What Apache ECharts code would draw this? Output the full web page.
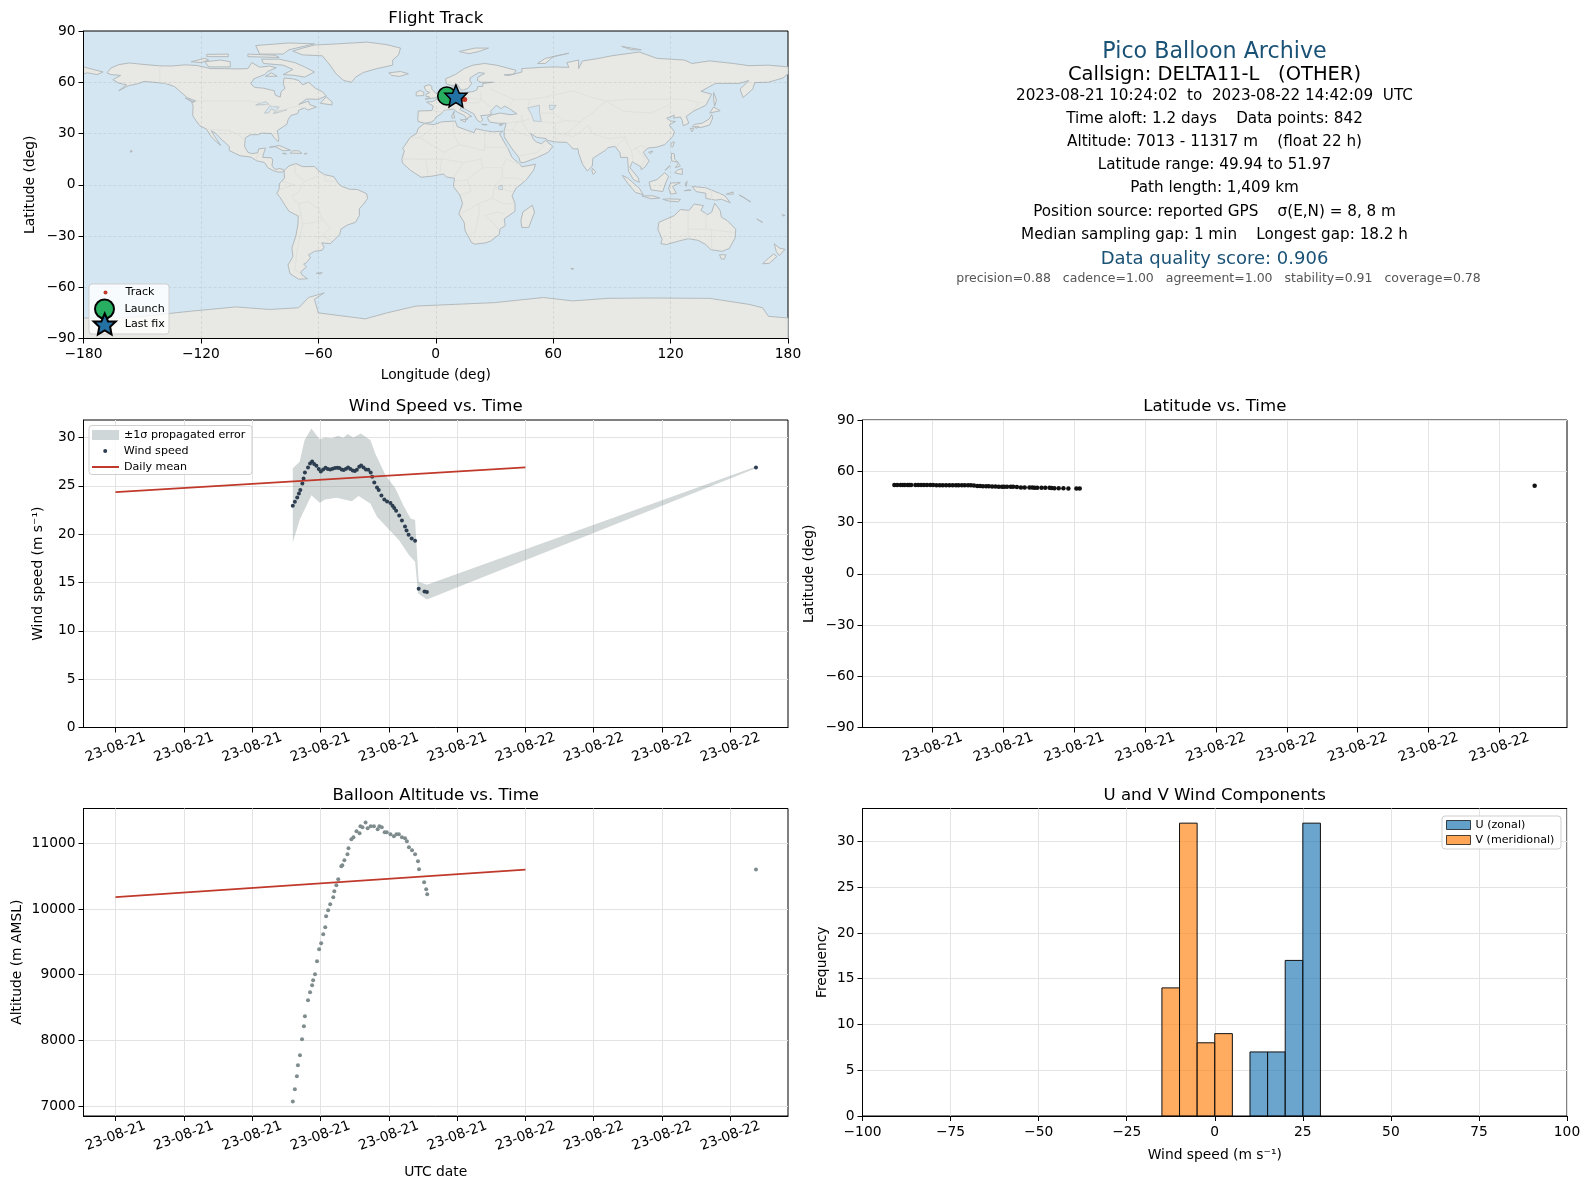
<!DOCTYPE html>
<html><head><meta charset="utf-8">
<style>html,body{margin:0;padding:0;background:#fff}#c{width:1590px;height:1189px}</style>
<script src="https://cdn.jsdelivr.net/npm/echarts@6/dist/echarts.min.js"></script>
</head><body><div id="c"></div>
<script>
// ---------- data ----------
const windHours=[10.38,10.50,10.64,10.74,10.82,10.94,11.01,11.09,11.27,11.39,11.51,11.63,11.76,11.90,12.02,12.16,12.30,12.43,12.57,12.71,12.85,12.99,13.10,13.24,13.36,13.50,13.62,13.75,13.89,14.01,14.13,14.27,14.38,14.52,14.66,14.80,14.94,15.03,15.15,15.31,15.41,15.57,15.74,15.90,16.10,16.22,16.32,16.43,16.61,16.77,16.95,17.04,17.16,17.34,17.54,17.75,18.09,18.23,37.5];
const windSpeed=[22.93,23.34,23.79,24.21,24.55,25.24,25.76,26.38,26.90,27.31,27.52,27.24,27.07,26.72,26.48,26.69,26.86,26.72,26.69,26.76,26.83,26.86,26.83,26.69,26.62,26.76,26.90,26.72,26.59,26.52,26.66,26.97,27.10,26.90,26.69,26.66,26.38,25.93,25.34,24.83,24.55,24.00,23.59,23.38,23.21,22.93,22.69,22.41,21.93,21.41,20.79,20.38,19.93,19.55,19.31,14.34,14.07,14.00,26.9];
const bandHours=[10.38,10.78,11.07,11.47,11.96,12.26,12.65,13.04,13.34,13.58,13.93,14.36,14.92,15.21,15.8,16.39,16.89,17.28,17.54,17.75,18.23,37.5,37.5,18.23,17.72,17.54,17.18,16.59,15.9,15.31,14.92,14.23,13.83,12.95,12.26,11.96,11.47,10.78,10.38];
const bandValues=[26.8,27.48,29.72,30.93,29.79,30,29.9,30.17,29.93,30.34,30,30.41,29.72,28.34,26.1,24.72,22.83,21.62,21.45,15.07,14.76,27.0,26.8,13.24,13.86,17.14,17.83,19.38,20.69,21.79,23.17,23.93,23.41,23.76,23.59,23.24,24.03,21.45,19.14];
const meanHours=[0,24];
const meanWind=[24.35,26.9];
const meanAlt=[10180,10600];
const latValues=[51.97,51.96,51.95,51.95,51.94,51.94,51.93,51.93,51.92,51.92,51.91,51.9,51.9,51.89,51.88,51.87,51.86,51.85,51.84,51.83,51.82,51.82,51.81,51.8,51.79,51.78,51.77,51.7,51.4,51.3,51.25,51.2,51.15,51.1,51.05,51.0,51.0,50.95,50.95,50.9,50.9,50.85,50.55,50.5,50.45,50.45,50.4,50.4,50.35,50.3,50.3,50.25,50.1,50.05,50.0,49.97,49.95,49.94,51.5];
const altHours=[10.38,10.50,10.62,10.68,10.80,10.92,11.03,11.09,11.27,11.39,11.51,11.57,11.68,11.80,11.92,12.04,12.16,12.28,12.33,12.45,12.57,12.75,12.81,12.93,13.04,13.22,13.28,13.40,13.58,13.64,13.81,13.93,14.11,14.29,14.34,14.46,14.64,14.76,14.94,15.13,15.35,15.45,15.59,15.76,15.88,16.10,16.30,16.45,16.59,16.77,16.95,17.06,17.18,17.36,17.54,17.71,17.77,18.07,18.19,18.25,37.5];
const altitude=[7070,7254,7452,7619,7772,8015,8213,8366,8609,8731,8838,8914,9005,9203,9386,9477,9614,9721,9888,9980,10071,10178,10269,10360,10452,10650,10665,10741,10832,10924,11061,11091,11183,11152,11259,11244,11317,11228,11259,11259,11213,11259,11244,11168,11168,11137,11107,11137,11137,11091,11076,11030,10939,10893,10832,10726,10604,10406,10300,10223,10600];
const binWidth=5;
const uBins=[10,15,20,25];
const uCounts=[7,7,17,32];
const vBins=[-15,-10,-5,0];
const vCounts=[14,32,8,9];
const trackLon=[5.6,7.5,9.5,11.5,13.5,14.8,10.3];
const trackLat=[51.97,51.6,51.2,50.7,50.2,49.94,51.5];
const launchPoint=[5.6,51.97];
const lastFixPoint=[10.3,51.97];
const windowTicks4h=[0,4,8,12,16,20,24,28,32,36];
const windowTicks3h=[12,15,18,21,24,27,30,33,36];
const infoLines=[
 ["Pico Balloon Archive",22.2,"#1a5276",52.5,0],
 ["Callsign: DELTA11-L   (OTHER)",19.5,"#000",75,0],
 ["2023-08-21 10:24:02  to  2023-08-22 14:42:09  UTC",15.2,"#000",96.5,0],
 ["Time aloft: 1.2 days    Data points: 842",15.2,"#000",119.5,0],
 ["Altitude: 7013 - 11317 m    (float 22 h)",15.2,"#000",142.5,0],
 ["Latitude range: 49.94 to 51.97",15.2,"#000",165.5,0],
 ["Path length: 1,409 km",15.2,"#000",188.5,0],
 ["Position source: reported GPS    σ(E,N) = 8, 8 m",15.2,"#000",212,0],
 ["Median sampling gap: 1 min    Longest gap: 18.2 h",15.2,"#000",235,0],
 ["Data quality score: 0.906",18,"#1a5276",259,0],
 ["precision=0.88   cadence=1.00   agreement=1.00   stability=0.91   coverage=0.78",12.5,"#555",279,4]
];
// land outlines, lon/lat
const landPolygons=[
[[-168,65.5],[-166,68.3],[-162,70.3],[-156.5,71.3],[-150,70.5],[-141,69.6],[-135,69.5],[-128,70.2],[-122,69.8],[-115,68],[-108,68],[-101,67.8],[-96,68],[-94,71.5],[-90,68.8],[-85,69.5],[-81.5,68.5],[-86,66.2],[-87.5,64.5],[-93,62],[-94.5,59],[-92.5,57],[-88,56.5],[-82.5,55],[-82,52.5],[-79.5,51.3],[-79,54.5],[-77,56.5],[-78,59],[-77.5,62.5],[-73,62],[-70,61],[-68,58.5],[-65,60],[-61.5,56.5],[-58,54.5],[-56,52],[-60,50],[-66,50.2],[-70,47],[-65,49],[-64.5,47],[-61,45.5],[-65.5,43.7],[-67,45],[-70,43.7],[-70.5,41.7],[-74,40.6],[-75.5,38],[-76,35.5],[-78,33.9],[-81,31.7],[-80.2,27],[-80.5,25.2],[-82.5,27.5],[-84,30],[-89,30.2],[-91,29.3],[-94.5,29.3],[-97.3,27.5],[-97.7,22.5],[-96,19],[-94,18.2],[-91,18.7],[-90.5,21],[-87,21.5],[-88,18],[-88.5,16],[-84,15.8],[-83.3,14.5],[-83.7,11],[-82,9],[-79.5,9.5],[-77.3,8.5],[-78,7.5],[-80.5,7.4],[-83,8.3],[-85.8,10],[-87.5,13],[-91.5,14],[-94.5,16.2],[-100,17],[-105.5,20],[-105.5,22.5],[-109,26],[-112.8,30.5],[-114.7,31.5],[-112.5,27.5],[-109.9,23],[-112,25],[-115,28.5],[-117.2,32.6],[-120.5,34.5],[-122.5,37.5],[-124.2,40.5],[-124,46.2],[-124.7,48.3],[-122.5,49],[-127,51],[-130.5,54.5],[-133.5,57.5],[-138,59.2],[-144,60],[-149,60.5],[-152,59.2],[-157,58],[-162,55],[-158,58.5],[-162,59.5],[-165,61.5],[-161,64],[-166,64.5]],
[[-73,78.2],[-68,76],[-58,75.5],[-54,70],[-51,65],[-47,61],[-43,60],[-41,63],[-37,65.7],[-30,68],[-22,70],[-22,73],[-19,76],[-18,80],[-25,82],[-35,83.5],[-50,82.5],[-62,81.8],[-68,80]],
[[-62,66],[-67,63],[-72,64],[-78,64.5],[-73,67.5],[-78,70],[-88,71],[-89,73.5],[-80,73.5],[-72,71.5],[-67,69]],
[[-105,69],[-116,69],[-118,72],[-110,73],[-105,72]],[[-125,72],[-118,74],[-116,73],[-120,71.5]],
[[-90,76.5],[-78,76.5],[-75,79],[-62,82.5],[-75,83],[-92,81.5]],[[-96,75],[-80,74.5],[-82,75.8],[-96,76.5]],
[[-117,75],[-106,75],[-106,76.5],[-117,76.3]],[[-59,47.7],[-53,46.7],[-53,48.5],[-56,51.5]],[[-128,50.8],[-123.5,48.4],[-125,48.7]],[[-87,63.5],[-81,63.5],[-84,65.5]],
[[-85,21.9],[-80,23],[-74.2,20.2],[-78,19.9],[-82,22.3]],[[-74.4,18.5],[-68.4,18.4],[-70,19.9],[-73,19.9]],[[-78.3,18.3],[-76.3,18],[-77,18.5]],[[-67.2,18],[-65.7,18.2],[-66.5,18.5]],[[-156,19],[-155,19.6],[-155.9,20.2]],
[[-77.3,8.5],[-75,11],[-71.5,12.4],[-68,10.6],[-62,10.7],[-60,8.3],[-57,6],[-52,4.7],[-50,1],[-48,-1],[-44,-2.6],[-40,-2.8],[-35.3,-5.2],[-34.8,-8],[-37,-11.5],[-39,-14],[-39,-18],[-41,-22],[-45,-23.5],[-48.5,-26],[-49,-29],[-52,-32.5],[-54,-34.5],[-58.3,-34],[-57,-36.5],[-58,-38.3],[-62,-39],[-65,-41],[-64,-42.7],[-66,-45.5],[-67.5,-46.5],[-66,-48],[-69,-51],[-68.3,-52.8],[-65.5,-55],[-70,-55.3],[-74.5,-52],[-75.5,-47],[-73,-42],[-73.5,-37],[-71.5,-30],[-70.4,-23],[-70.3,-18.3],[-75,-15.5],[-77,-12.1],[-79.5,-7.5],[-81.2,-5],[-80,-2.5],[-80,0.5],[-78.7,2],[-77.3,4],[-77.5,7]],
[[-61,-51.8],[-58,-51.4],[-59,-52.3]],
[[-5.9,35.8],[-1,35.2],[3,36.8],[10,37.3],[11,34],[15,32.3],[19.5,30.5],[20.5,32.8],[25,31.7],[29,31],[32.5,31.2],[34.2,31.3],[32.6,29.8],[35,25],[37,21],[39,16],[43,12],[44,10.5],[51,12],[50,8.5],[46,2.5],[41,-2],[39,-6.5],[40.5,-11],[40.5,-15.5],[35,-20],[35.5,-24],[32.8,-26],[32.5,-29],[28,-33],[25.5,-34],[20,-34.8],[18.3,-33.8],[15,-27],[14.5,-22],[11.8,-17],[13.7,-11],[12.3,-6],[9,-1],[9.6,3.8],[5.5,4.5],[4,6.3],[-2,5],[-7.5,4.4],[-13,8.5],[-16.8,12.5],[-17.4,14.7],[-16,20],[-17,21],[-13,27.8],[-9.8,30],[-9,33]],
[[-9.2,38.7],[-8.9,43.2],[-2,43.4],[-1.2,46],[-4.7,48.4],[-1.5,48.7],[1.5,50.8],[4,52],[7,53.6],[8.5,55.5],[8.2,57],[10.7,57.7],[10.5,54.5],[12,54.2],[14.3,54],[19,54.5],[21,55.5],[21.5,57.5],[24,57.5],[24,59.3],[29.5,60],[23,60],[21.3,61],[21.5,63],[25,65.2],[22,65.7],[17.5,62.5],[17.5,60.5],[18.5,59.5],[16.5,56.5],[14.3,55.5],[12.8,55.5],[11,58.8],[8.3,58],[5.5,59],[5,62],[10,64.5],[14.5,68],[19,70],[25,71],[31,70],[41,67],[40,64.8],[35,64.3],[37.5,64],[44,66],[44,68],[54,68.7],[60.5,69],[68,68.7],[67,71.5],[73,73],[73,68],[75,72.5],[82,73.7],[90,75.5],[104,77.7],[113,74],[127,73],[131,71],[140,72.5],[152,71],[160,69.7],[170,70],[180,69],[180,65],[177.5,62.5],[170,60],[163,59.8],[162,56],[157,51],[155.5,56],[160,61],[155,59.3],[143,59.3],[135.5,54.7],[141,53],[138,46.5],[132,43.2],[128,40],[129.3,36],[126.5,34.5],[126,37.5],[125,39.7],[121.5,39],[122,40.7],[118,39],[120,37.3],[122.5,37],[119.3,35],[122,31],[121,28],[117,23.5],[113,22],[108.5,21.5],[106,19],[109,14],[107,10.5],[105,8.7],[104.8,10.5],[100.5,13.5],[99.2,10],[103.5,4],[104,1.4],[101,3],[98.5,8],[98,16],[94.5,16],[94,19],[91.5,22.5],[88,21.7],[86.5,20],[80.3,15.5],[80,11],[77.5,8],[75,12],[73,18.5],[72.7,21],[70,21],[69,22.5],[67,24.8],[61.5,25],[57,26],[56.5,27],[51.5,27.8],[48.5,30],[50,26.5],[51.5,25],[54,24],[56,26],[59.8,22.5],[57.5,19],[52,16],[45,13],[43.2,13],[42.5,16],[39,21],[35,28],[34.9,31.5],[36,36],[32,36],[27.5,36.7],[26.3,39.5],[29,41],[33,42],[38,41],[41.5,41.5],[37,45],[35,46],[33.5,44.5],[31,46.5],[28,43],[28.5,41.3],[26,40.7],[23,40.5],[24,38],[22.8,36.5],[21,38],[19.5,41.5],[15,44.3],[13,45.5],[12.4,44],[16,41.8],[18.4,40],[16.5,39.5],[16,38],[14.8,40.4],[11,42.5],[9,44.3],[4,43.4],[3,41.7],[0,39.5],[-0.7,38],[-2,36.8],[-5.5,36],[-9,37]],
[[-180,69],[-175,67.5],[-170,66],[-173,64.5],[-178,65.5],[-180,65]],
[[-5.5,50],[1.3,51.2],[1.7,52.7],[0,53.5],[-2,56],[-2,57.6],[-3.5,58.6],[-6,57.5],[-5,55],[-3,54],[-5,53],[-5,51.7],[-3,51.3]],
[[-10,52],[-6.2,52.2],[-6,54],[-8,55.2],[-10,54]],[[-24,65.5],[-18,66.3],[-14,65],[-18.5,63.4],[-22.5,64]],
[[12.5,38],[15.5,38.2],[15,36.7]],[[8.3,39],[9.7,39.2],[9.3,41.2],[8.2,40.8]],[[8.7,41.5],[9.5,42],[9.4,43]],[[23.5,35.4],[26.3,35.2],[24.8,35]],[[32.3,35],[34.5,35.6],[33.5,34.7]],
[[12,78],[20,80],[27,80],[22,78],[17,76.7]],[[52,71],[56,74],[68,77],[60,75],[56,71]],[[100,79],[105,79],[95,81]],
[[142,54],[143.5,49.5],[142.5,46],[142,50]],[[131,34],[135.5,33.5],[140,35],[141.5,39],[141,41.3],[139.8,38.5],[136,36],[132,35.3]],[[140,42],[145.3,43.3],[142,45.5]],[[130,33],[131.8,33],[131,31]],[[132.5,34],[134.5,34],[133,33]],
[[114,-22],[113.5,-26],[115.7,-32],[115,-34.5],[118,-35],[124,-33],[129,-31.6],[134,-32.5],[138,-35],[140.5,-38],[146.3,-39],[150,-37.3],[153,-31],[153.3,-26],[149,-21],[146,-19],[145.3,-15],[142.5,-10.8],[141,-16],[139,-17.5],[135.5,-15],[136.8,-12.2],[132,-11.3],[129.5,-15],[125,-14.5],[122,-18],[117,-20.5]],
[[-180,-78],[-180,-90],[180,-90],[180,-78],[170,-77],[167,-72],[160,-70],[140,-66.5],[110,-66.3],[88,-66.5],[70,-68],[55,-66],[30,-69],[10,-70],[-10,-71],[-25,-75],[-36,-78.5],[-60,-75],[-62,-67],[-57,-63.3],[-65,-66],[-70,-72],[-85,-73],[-102,-71.5],[-125,-74],[-150,-77],[-160,-78]]
];
const islandPolygons=[
[[120,23],[121,22],[122,25],[121,25]],[[108.7,19],[111,19.7],[110,18.3]],[[80,9.7],[81.8,7.5],[80.5,6],[79.8,8]],
[[120.5,18.5],[122,18],[122,15],[124,13],[120.5,14]],[[122,7],[126,6],[126,9.5],[123.5,8.5]],[[122.5,10],[125,11],[124,12.5]],[[117.2,8.4],[119.5,10.8],[119.5,11.3]],
[[109,1.5],[113,3],[117,7],[119,5],[117.5,1],[116,-4],[110,-3]],[[95.3,5.5],[98,4],[104,-2],[106,-5.8],[102,-4.5],[98,1]],[[105.3,-6.5],[111,-6.5],[114.5,-7.8],[110,-8.2]],[[120,1],[125,1.3],[121,-1],[123,-5],[120,-5.5],[119,-2]],[[116,-8.5],[119,-8.3],[125,-8.5],[124,-10],[119,-9.5]],[[127.5,1],[128.5,2],[128,-1]],[[127,-3.5],[130.5,-3.2],[129,-3]],
[[131,-1],[138,-1.8],[145,-5],[147.8,-6.5],[150.5,-10.5],[146,-8.5],[143,-9],[138,-8],[138,-5],[133,-4]],[[148.5,-5.5],[152,-4.2],[152,-5.5]],[[155,-6],[157,-7],[160,-9.5],[161,-10]],[[164,-20],[167,-22],[166,-21.5]],
[[145,-41],[148.3,-41],[147.5,-43.5],[146,-43.5]],[[173,-34.5],[175.5,-37],[178.5,-37.8],[175.5,-41.5],[174,-39]],[[172.7,-40.5],[174.3,-42],[170.5,-46],[167,-46.2],[170,-43]],
[[49.3,-12],[50.5,-16],[47.5,-25],[44,-25],[43.5,-21],[44.5,-16]],[[69,-49],[70.5,-49],[70,-49.7]],[[177,-17.5],[178.5,-18],[177.5,-18.3]]
];
const waterPolygons=[
[[47,45],[53,46.5],[53,42],[54,37],[50,37.3],[49,41]],
[[-92,46.7],[-85,47],[-87,48.6],[-89,48]],
[[-87.5,42],[-85,46],[-80,45.5],[-82,43],[-84,44.5],[-85.5,42]],
[[-83,41.7],[-79,42.8],[-76,44],[-79.5,43.3],[-82.5,42.5]],
[[32,-1],[34,-0.3],[34,-3],[32,-2.5]],
[[58,46.5],[61.5,46.5],[60,44],[58.5,44]]
];
const borderLines=[
[[-123,49],[-95,49],[-89,48],[-83,46],[-82,43],[-79,43],[-75,45],[-70,46],[-67,45]],[[-141,69.6],[-141,60],[-135,59]],[[-117,32.5],[-106,31.8],[-101,29.5],[-97.3,26]],[[-92,14.5],[-91,17.5],[-89,18]],
[[-72,12],[-72,7],[-67,2],[-70,-4],[-74,-7],[-70,-11],[-69,-17],[-70,-18.3]],[[-67,2],[-60,5],[-60,8]],[[-57,6],[-56,2],[-52,2]],[[-70,-11],[-65,-10],[-60,-14],[-58,-20],[-54,-25],[-58,-30],[-53,-33]],[[-69,-17],[-68,-23],[-70,-33],[-71,-40],[-72,-50],[-69,-52]],[[-68,-23],[-62,-22],[-58,-20]],[[-80,-3],[-75,-1],[-72,0],[-78.7,2]],
[[-8,27.5],[-2,33],[-1,35]],[[-13,27.5],[-8,27.5],[4,19],[12,23.5],[14,23],[25,20],[25,31.7]],[[25,22],[37,22]],[[9,37],[9,30],[12,23.5]],[[-17,15],[-11,15],[-5,15],[4,15],[14,13],[23,15],[24,10],[34,10],[36,15],[43,12]],[[-5,15],[-4,5]],[[3,15],[2,6]],[[14,13],[9,4]],[[24,10],[16,3],[9.5,2]],[[34,10],[34,4],[41,4],[46,2]],[[16,3],[18,-4],[12.5,-6]],[[30,-1],[29,-8],[22,-11],[13,-17]],[[34,4],[30,-1],[40,-4.5]],[[29,-8],[34,-11],[40,-11]],[[22,-11],[22,-18],[20,-28],[17,-29]],[[25,-18],[32,-16],[35,-17]],[[25,-18],[29,-22],[32,-26]],
[[2,51],[6,49.5],[7.5,47.6],[6.8,44],[3,42.5],[-1.5,43.3]],[[7,53.5],[6,50.5]],[[9,54.8],[14.7,54]],[[14.7,54],[14.5,51],[12,50],[13,47.6],[7.5,47.6]],[[14.5,51],[23,50],[22,48],[16,48],[13,46.5]],[[23,54.5],[23,50],[28,45.5]],[[28,56],[40,50],[38,47]],[[40,50],[48,50],[55,51],[70,55],[80,51],[87,49],[98,50],[110,50],[117,50],[127,50],[135,48],[131,43]],[[87,49],[96,43],[110,42],[120,47]],[[48,50],[47,45]],[[53,42],[60,42],[66,37.5],[74,37],[80,42],[87,49]],[[54,37],[61,36],[66,37.5]],[[61,36],[61,30],[61.5,25]],[[61,30],[66,29.5],[70,33],[74,37]],[[66,29.5],[70,28],[74,31],[78,35]],[[78,35],[80,30],[88,27],[97,28],[92,22]],[[97,28],[98,24],[100,20],[101,13]],[[100,20],[105,23],[108,21.5]],[[102,22],[107,15],[105,11]],[[44,37],[46,33],[48,30]],[[36,32],[39,32],[46,29],[48,28.5]],[[42,37],[36,36]],[[39,32],[42,37],[44,37]],[[44,41],[44,37],[48,38.5]],[[52,19],[56,24]],[[43,17],[52,19]],[[141,-2.5],[141,-9]],[[129,-15],[129,-31.6]],[[138,-16],[138,-26],[129,-26]],[[141,-26],[141,-38]],[[138,-26],[153,-28]]
];

// ---------- layout ----------
const F='"DejaVu Sans"';
const L1=83.5,W=704.5,L2=862.5;
const T1=31,T2=420,T3=808.5,H=307.5;
const minus=v=>String(v).replace('-','−');
const timeFmt=v=>v<24?'23-08-21':'23-08-22';
const stroke={lineStyle:{color:'#000',width:1}};
const TICK=13.8;
const MAP=4;
function xA(i,o){return Object.assign({type:'value',gridIndex:i,axisLine:{onZero:false,show:true,...stroke},axisTick:{show:true,length:5,...stroke},
 axisLabel:{color:'#000',fontFamily:F,fontSize:TICK,margin:9,formatter:minus},splitLine:{show:true,lineStyle:{color:'#e3e3e3',width:1}},nameLocation:'middle',nameTextStyle:{color:'#000',fontFamily:F,fontSize:13.85}},o);}
function timeAx(i,min,max,ticks,name){
 return xA(i,{min,max,name,nameGap:49,axisTick:{show:true,length:5,customValues:ticks,...stroke},axisLabel:{color:'#000',fontFamily:F,fontSize:13.8,margin:20,rotate:20,align:'center',verticalAlign:'middle',customValues:ticks,formatter:timeFmt}});
}
function yA(i,o,ticks,gap){const a=xA(i,Object.assign({nameGap:gap},o));
 a.axisLabel=Object.assign({},a.axisLabel,{margin:8,padding:[4,0,0,0]});
 if(ticks){a.axisTick=Object.assign({},a.axisTick,{customValues:ticks});a.axisLabel.customValues=ticks;}
 return a;}
function polySeries(name,polys,style,z,closed){
 return {type:'custom',name,xAxisIndex:MAP,yAxisIndex:MAP,z,clip:true,silent:true,animation:false,coordinateSystem:'cartesian2d',
  data:[polys[0][0]],encode:{x:0,y:1},
  renderItem(params,api){
   return {type:'group',children:polys.map(poly=>({type:closed?'polygon':'polyline',shape:{points:poly.map(p=>api.coord(p))},style:Object.assign({},style,closed?{}:{fill:null}),silent:true}))};}};
}
function barSeries(name,bins,counts,color){
 return {type:'custom',name,xAxisIndex:3,yAxisIndex:3,z:3,animation:false,itemStyle:{color,opacity:0.7},
  data:bins.map((b,i)=>[b,counts[i]]),encode:{x:0,y:1},
  renderItem(params,api){const a=api.coord([api.value(0),api.value(1)]),b=api.coord([api.value(0)+binWidth,0]);
   return {type:'rect',shape:{x:a[0],y:a[1],width:b[0]-a[0],height:b[1]-a[1]},style:{fill:color,fillOpacity:0.66,stroke:'#111',lineWidth:1}};}};
}
function dots(name,xs,ys,i,color,size,z){return {type:'scatter',name,xAxisIndex:i,yAxisIndex:i,data:xs.map((x,k)=>[x,ys[k]]),symbolSize:size,z:z||5,animation:false,silent:true,itemStyle:{color,opacity:1}};}
function meanLine(name,ys,i){return {type:'line',name,xAxisIndex:i,yAxisIndex:i,data:meanHours.map((x,k)=>[x,ys[k]]),symbol:'none',z:6,animation:false,silent:true,lineStyle:{color:'#c0392b',width:1.8},itemStyle:{color:'#c0392b'}};}
function leg(name,iconType,left,cy,w,h,extra){
 const box=Math.max(h,13);
 return {show:true,selectedMode:false,orient:'horizontal',left,top:cy-box/2,padding:0,itemWidth:w,itemHeight:h,z:12,
  textStyle:{color:'#000',fontFamily:F,fontSize:11.1},
  data:[Object.assign({name,icon:iconType},extra||{})]};
}
const legendBox=b=>({type:'rect',z:11,shape:{x:b[0],y:b[1],width:b[2],height:b[3],r:3},style:{fill:'rgba(255,255,255,0.82)',stroke:'#cfcfcf',lineWidth:1}});
const titleOf=t=>({text:t[0],left:t[1]+W/2,top:t[2]+t[3],textAlign:'center',padding:0,textStyle:{color:'#000',fontFamily:F,fontSize:16.6,fontWeight:'normal'}});
const gridOf=g=>({show:true,left:g[0],top:g[1],width:W,height:H,backgroundColor:g[2],borderColor:'#000',borderWidth:1,containLabel:false});
const STAR='path://M0,-10L2.9,-3.1L9.5,-3.1L4.7,1.5L5.9,8.1L0,4.6L-5.9,8.1L-4.7,1.5L-9.5,-3.1L-2.9,-3.1Z';
const mapGrid={show:true,lineStyle:{color:'rgba(120,130,130,0.16)',type:[3,2],width:1}};
const LAND={fill:'#e8e8e4',stroke:'#b3babd',lineWidth:1};

const chart=echarts.init(document.getElementById('c'),null,{width:1590,height:1189});
const graphics=infoLines.map(l=>({type:'text',x:1214.5+l[4],y:l[3],z:20,style:{text:l[0],fontFamily:F,fontSize:l[1],fill:l[2],textAlign:'center',textVerticalAlign:'middle'}}));
[[89,284,80,50],[89,425.5,163,49],[1442,816,119,33]].forEach(b=>graphics.push(legendBox(b)));
chart.setOption({
 animation:false,backgroundColor:'#fff',
 title:[['Wind Speed vs. Time',L1,T2,-22],['Latitude vs. Time',L2,T2,-22],['Balloon Altitude vs. Time',L1,T3,-21],['U and V Wind Components',L2,T3,-21],['Flight Track',L1,T1,-21]].map(titleOf),
 grid:[[L1,T2,'#fff'],[L2,T2,'#fff'],[L1,T3,'#fff'],[L2,T3,'#fff'],[L1,T1,'#d4e6f1']].map(gridOf),
 xAxis:[
  timeAx(0,-1.875,39.375,windowTicks4h,''),
  timeAx(1,9.03,38.87,windowTicks3h,''),
  timeAx(2,-1.875,39.375,windowTicks4h,'UTC date'),
  xA(3,{min:-100,max:100,interval:25,name:'Wind speed (m s⁻¹)',nameGap:32}),
  xA(MAP,{min:-180,max:180,interval:60,name:'Longitude (deg)',nameGap:29.5,z:3,splitLine:mapGrid})
 ],
 yAxis:[
  yA(0,{min:0,max:31.8,name:'Wind speed (m s⁻¹)'},[0,5,10,15,20,25,30],38),
  yA(1,{min:-90,max:90,interval:30,name:'Latitude (deg)'},null,46),
  yA(2,{min:6848,max:11530,name:'Altitude (m AMSL)'},[7000,8000,9000,10000,11000],59),
  yA(3,{min:0,max:33.6,name:'Frequency'},[0,5,10,15,20,25,30],33),
  yA(MAP,{min:-90,max:90,interval:30,name:'Latitude (deg)',z:3,splitLine:mapGrid},null,46)
 ],
 legend:[
  leg('Track','circle',103.5,293.5,30,4),
  leg('Launch','circle',94,308,30,19),
  leg('Last fix',STAR,92.7,323,30,21),
  leg('±1σ propagated error','rect',92,436,27,10,{itemStyle:{color:'#d0d7d9',opacity:1,borderWidth:0}}),
  leg('Wind speed','circle',103.2,452,27,4),
  leg('Daily mean','rect',92,468,27,2),
  leg('U (zonal)','rect',1446,826,24,9,{itemStyle:{color:'#1f77b4',opacity:0.7,borderColor:'#000',borderWidth:1}}),
  leg('V (meridional)','rect',1446,841,24,9,{itemStyle:{color:'#ff7f0e',opacity:0.7,borderColor:'#000',borderWidth:1}})
 ],
 series:[
  polySeries('land',landPolygons,LAND,1,true),
  polySeries('islands',islandPolygons,LAND,1,true),
  polySeries('water',waterPolygons,{fill:'#d4e6f1',stroke:'#b3babd',lineWidth:0.7},1,true),
  polySeries('borders',borderLines,{stroke:'#dcdfdc',lineWidth:0.8},1,false),
  dots('Track',trackLon,trackLat,MAP,'#c0392b',5,6),
  {type:'scatter',name:'Launch',xAxisIndex:MAP,yAxisIndex:MAP,data:[launchPoint],symbol:'circle',symbolSize:18,z:7,animation:false,silent:true,itemStyle:{color:'#27ae60',borderColor:'#000',borderWidth:1.5,opacity:1}},
  {type:'scatter',name:'Last fix',xAxisIndex:MAP,yAxisIndex:MAP,data:[lastFixPoint],symbol:STAR,symbolSize:22,z:8,animation:false,silent:true,itemStyle:{color:'#2471a3',borderColor:'#000',borderWidth:1.5,opacity:1}},
  {type:'custom',name:'±1σ propagated error',xAxisIndex:0,yAxisIndex:0,z:3,animation:false,silent:true,itemStyle:{color:'#7f8c8d',opacity:0.35},
   data:[[bandHours[0],bandValues[0]]],encode:{x:0,y:1},
   renderItem(p,api){return {type:'polygon',shape:{points:bandHours.map((h,i)=>api.coord([h,bandValues[i]]))},style:{fill:'#7f8c8d',opacity:0.35}};}},
  dots('Wind speed',windHours,windSpeed,0,'#2c3e50',4),
  meanLine('Daily mean',meanWind,0),
  dots('Latitude',windHours,latValues,1,'#111',4.5),
  dots('Altitude',altHours,altitude,2,'#7f8c8d',4),
  meanLine('Altitude daily mean',meanAlt,2),
  barSeries('V (meridional)',vBins,vCounts,'#ff7f0e'),
  barSeries('U (zonal)',uBins,uCounts,'#1f77b4')
 ],
 graphic:graphics
});
</script></body></html>
